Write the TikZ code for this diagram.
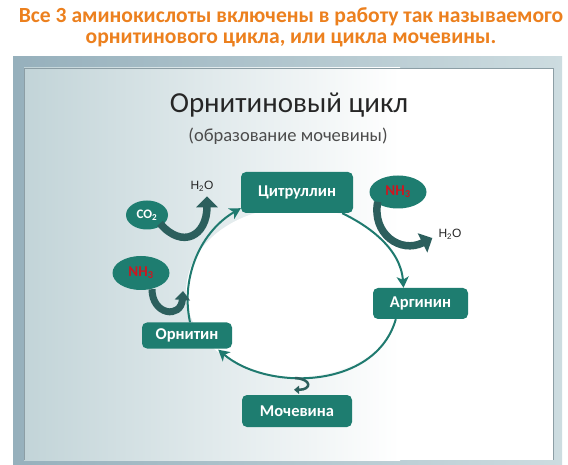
\documentclass[tikz,border=0pt]{standalone}
\usepackage{fontspec}
\setmainfont{Carlito}
\newfontfamily\arialf{Liberation Sans}
\usetikzlibrary{arrows.meta,shapes.geometric,calc}
\definecolor{tealbox}{RGB}{30,125,112}
\definecolor{cyc}{RGB}{31,122,111}
\definecolor{fatc}{RGB}{44,95,93}
\definecolor{orng}{RGB}{236,128,30}
\definecolor{nhred}{RGB}{205,22,32}
\definecolor{frameL}{RGB}{150,176,188}
\definecolor{frameR}{RGB}{205,220,224}
\definecolor{bgL}{RGB}{194,212,216}
\definecolor{slideedge}{RGB}{140,158,165}
\tikzset{
  box/.style={fill=tealbox, rounded corners=5pt, text=white, inner sep=0pt,
    font=\fontsize{16.5}{18}\selectfont\bfseries},
  oval/.style={ellipse, fill=tealbox, inner sep=0pt},
  cycline/.style={draw=cyc, line width=2pt, -{Stealth[length=11pt,width=12pt,inset=3pt]}},
  fat/.style={draw=fatc, line width=7.5pt, -{Triangle[length=11pt,width=21pt]}},
  lbl/.style={font=\arialf\fontsize{12}{13}\selectfont, text=black!85, inner sep=0pt}
}
\begin{document}
\begin{tikzpicture}[x=1pt,y=-1pt]
\useasboundingbox (0,0) rectangle (568,465);
\fill[white] (0,0) rectangle (568,465);
% heading
\node[anchor=base, text=orng, font=\fontsize{21.6}{22}\selectfont\bfseries] (t1) at (291,23) {Все 3 аминокислоты включены в работу так называемого};
\node[anchor=base, text=orng, font=\fontsize{21.6}{22}\selectfont\bfseries] (t2) at (291,44) {орнитинового цикла, или цикла мочевины.};
% slide frame
\shade[left color=frameL, right color=frameR] (13,57) rectangle (562,465);
\shade[left color=bgL, right color=white] (24,68) rectangle (400,460);
\fill[white] (399.5,68) rectangle (553,460);
\draw[slideedge, line width=0.8pt] (24,460) -- (24,68) -- (553,68) -- (553,460);
% slide title
\node[anchor=base, text=black!85, font=\fontsize{29}{30}\selectfont] (st) at (289,113) {Орнитиновый цикл};
\node[anchor=base, text=black!70, font=\fontsize{18.5}{20}\selectfont] (sub) at (288,142) {(образование мочевины)};
% cycle interior
\fill[white] (296,292) ellipse [x radius=110, y radius=85];
% boxes
\node[box, minimum width=112, minimum height=41] (citr) at (297,192.5) {Цитруллин};
\node[box, minimum width=95, minimum height=31] (arg) at (420.5,303.5) {Аргинин};
\node[box, minimum width=90, minimum height=26] (orn) at (187,335.5) {Орнитин};
\node[box, minimum width=110, minimum height=32] (moch) at (297,411) {Мочевина};
% cycle arrows
\draw[cycline] ($(orn.north)+(3,0)$) .. controls +(-10,-48) and +(-38,22) .. ($(citr.south west)+(0,-5)$);
\draw[cycline] ($(citr.south east)+(-11,0)$) .. controls +(25,12) and +(-3,-40) .. ($(arg.north)+(-17,0)$);
\draw[cycline] ($(arg.south west)+(23,0)$) .. controls +(-20,70) and +(50,42) .. ($(orn.south east)+(-14,1)$);
% labels
\node[lbl] (h1) at (202,186) {H\textsubscript{2}O};
\node[lbl] (h2) at (450,234) {H\textsubscript{2}O};
% ovals
\node[oval, minimum width=42, minimum height=29] (co2) at (147,215) {};
\node[oval, minimum width=57, minimum height=34] (nhl) at (141,273) {};
\node[oval, minimum width=57, minimum height=33] (nhr) at (398,192) {};
% fat arrows
\coordinate (j1) at (183,291);
\coordinate (j2) at (295,378);
\draw[fat] ($(co2.south east)+(-2,-2)$) .. controls +(22,26) and +(0,40) .. ($(h1.south)+(5,5)$);
\draw[fat] ($(nhr.south west)+(0,-2)$) .. controls +(-6,32) and +(-32,16) .. ($(h2.west)+(-6,4)$);
\draw[fat, line width=7pt, -{Triangle[length=9pt,width=15pt]}] ($(nhl.south)+(11,-1)$) .. controls +(0,26) and +(-2,28) .. (j1);
\draw[draw=fatc, line width=2.5pt, -{Triangle[length=5pt,width=8pt]}] (j2) .. controls +(17,1) and +(18,0) .. ($(moch.north)+(-3,-5)$);
% oval texts
\node[text=white, font=\fontsize{13}{14}\selectfont\bfseries] at (co2) {CO\textsubscript{2}};
\node[text=nhred, font=\fontsize{15}{16}\selectfont\bfseries] at (nhl) {NH\textsubscript{3}};
\node[text=nhred, font=\fontsize{15}{16}\selectfont\bfseries] at (nhr) {NH\textsubscript{3}};
\end{tikzpicture}
\end{document}
